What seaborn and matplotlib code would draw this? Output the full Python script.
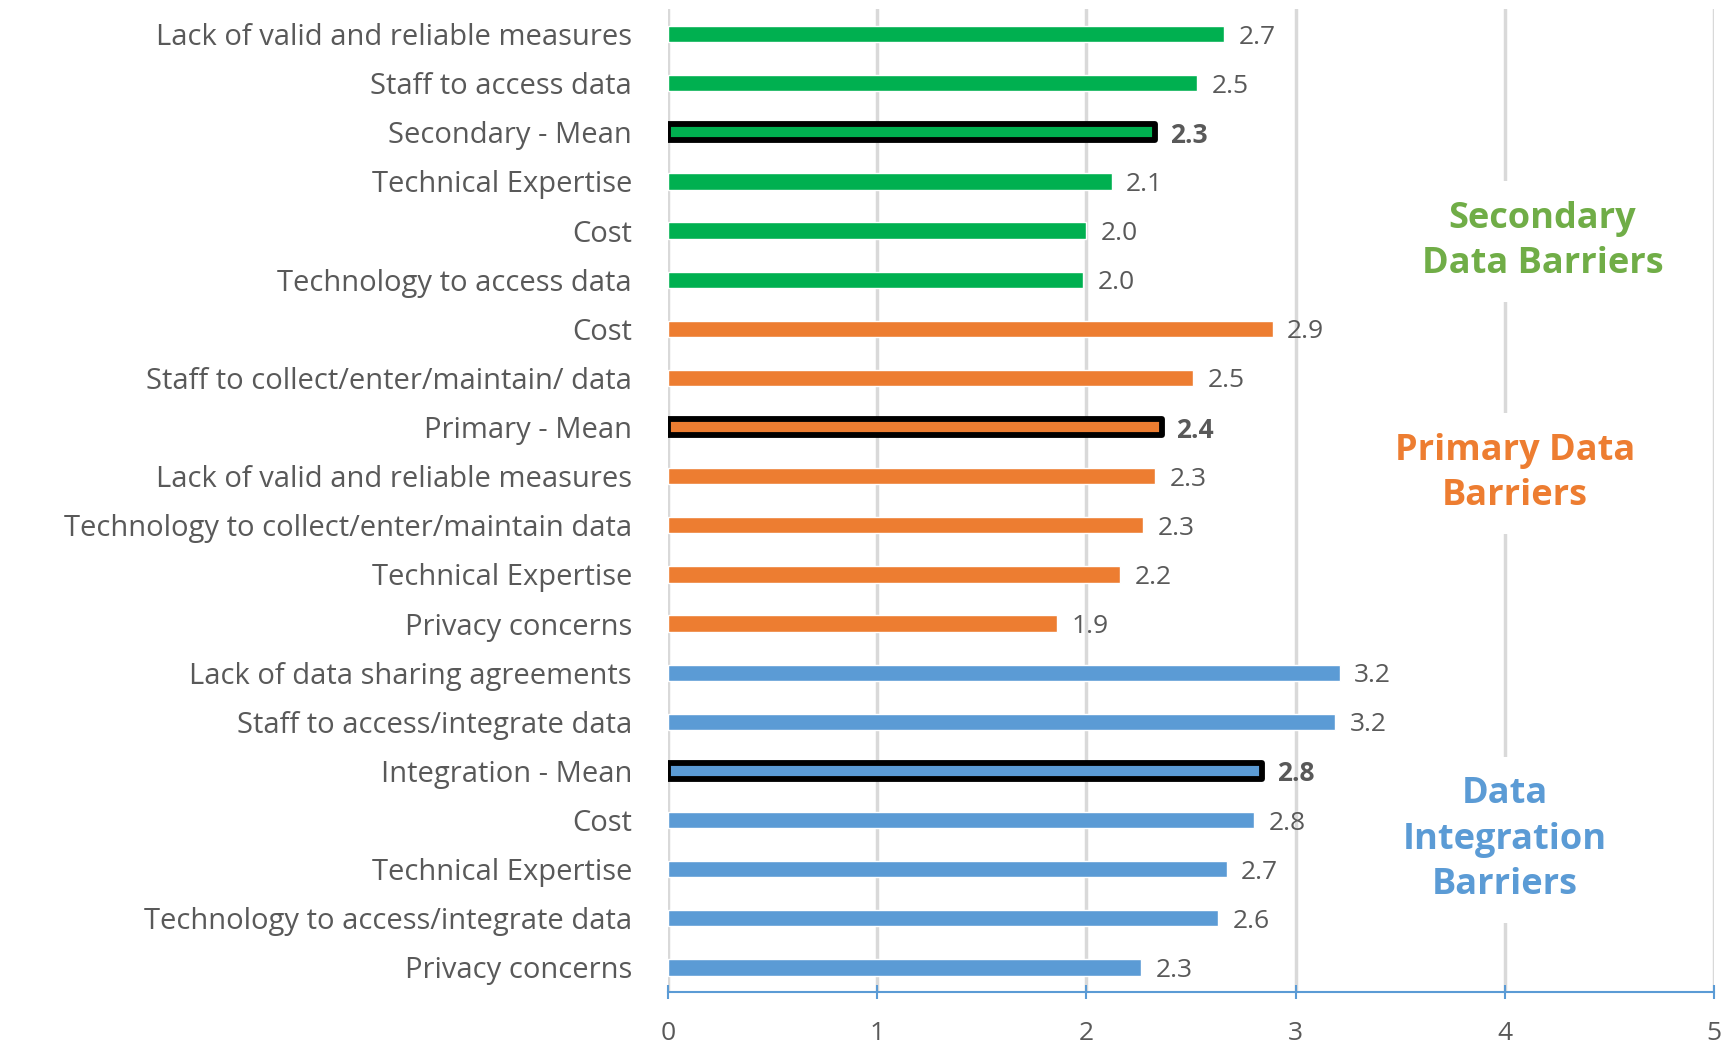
import numpy as np
import pandas as pd
import matplotlib.pyplot as plt
import seaborn as sns

# Data (top row first)
secondary_labels = ["Lack of valid and reliable measures", "Staff to access data",
                    "Secondary - Mean", "Technical Expertise", "Cost",
                    "Technology to access data"]
secondary_values = [2.66, 2.53, 2.33, 2.12, 2.00, 1.985]

primary_labels = ["Cost", "Staff to collect/enter/maintain/ data", "Primary - Mean",
                  "Lack of valid and reliable measures",
                  "Technology to collect/enter/maintain data",
                  "Technical Expertise", "Privacy concerns"]
primary_values = [2.89, 2.51, 2.36, 2.33, 2.27, 2.16, 1.86]

integration_labels = ["Lack of data sharing agreements", "Staff to access/integrate data",
                      "Integration - Mean", "Cost", "Technical Expertise",
                      "Technology to access/integrate data", "Privacy concerns"]
integration_values = [3.21, 3.19, 2.84, 2.80, 2.67, 2.63, 2.26]

group_names = ["Secondary", "Primary", "Integration"]
group_titles = ["Secondary\nData Barriers", "Primary Data\nBarriers",
                "Data\nIntegration\nBarriers"]
x_ticks = [0, 1, 2, 3, 4, 5]

BAR_COLORS = {"Secondary": "#00B050", "Primary": "#ED7D31", "Integration": "#5B9BD5"}
TITLE_COLORS = {"Secondary": "#70AD47", "Primary": "#ED7D31", "Integration": "#5B9BD5"}
TEXT_GRAY = "#595959"


def build_frame():
    rows = []
    for grp, labels, values in [("Secondary", secondary_labels, secondary_values),
                                ("Primary", primary_labels, primary_values),
                                ("Integration", integration_labels, integration_values)]:
        for lab, val in zip(labels, values):
            rows.append({"group": grp, "label": lab, "value": val,
                         "key": f"{grp}|{lab}", "is_mean": lab.endswith("- Mean")})
    return pd.DataFrame(rows)


def main():
    df = build_frame()
    sns.set_style("white")
    plt.rcParams["font.family"] = ["Open Sans", "DejaVu Sans"]

    fig = plt.figure(figsize=(17.33, 10.49), dpi=100)
    ax = fig.add_axes([0.3855, 0.0543, 0.6035, 0.9367])

    sns.barplot(data=df, y="key", x="value", hue="group", order=df["key"].tolist(),
                palette=BAR_COLORS, dodge=False, width=0.33, legend=False,
                saturation=1, ax=ax, zorder=3)

    # Thick black outline on the mean rows
    mean_rows = set(np.where(df["is_mean"])[0])
    for p in ax.patches:
        row = int(round(p.get_y() + p.get_height() / 2))
        if row in mean_rows and p.get_width() > 0:
            p.set_edgecolor("black")
            p.set_linewidth(4.2)
            p.set_joinstyle("round")

    # Value labels
    for i, r in df.iterrows():
        ax.text(r["value"] + 0.07, i, f"{r['value']:.1f}", va="center_baseline",
                ha="left", fontsize=19, color=TEXT_GRAY,
                fontweight="bold" if r["is_mean"] else "normal", zorder=4)

    ax.set_xlim(0, 5)
    ax.set_ylim(len(df) - 0.5, -0.5)
    ax.set_xticks(x_ticks)
    ax.set_xticklabels([str(t) for t in x_ticks])
    ax.set_yticks(range(len(df)))
    ax.set_yticklabels(df["label"].tolist())
    ax.set_xlabel("")
    ax.set_ylabel("")

    ax.grid(axis="x", color="#D9D9D9", linewidth=2.5, zorder=0)
    ax.set_axisbelow(True)
    for side in ["top", "right", "left"]:
        ax.spines[side].set_visible(False)
    ax.spines["bottom"].set_color("#5B9BD5")
    ax.spines["bottom"].set_linewidth(1.5)

    ax.tick_params(axis="x", bottom=True, direction="inout", length=10, width=1.5,
                   color="#5B9BD5", labelcolor=TEXT_GRAY, labelsize=19, pad=16)
    ax.tick_params(axis="y", left=False, length=0, labelcolor=TEXT_GRAY,
                   labelsize=21, pad=26)

    # Group titles on the right, positioned by group rows
    title_pos = {"Secondary": (4.18, 4.22), "Primary": (4.05, 8.95),
                 "Integration": (4.0, 16.4)}
    for grp, title in zip(group_names, group_titles):
        x, y = title_pos[grp]
        ax.text(x, y, title, ha="center", va="center", fontsize=26,
                fontweight="bold", color=TITLE_COLORS[grp], linespacing=1.35,
                bbox=dict(facecolor="white", edgecolor="none", pad=14), zorder=5)

    fig.savefig("out.png", dpi=100)
    plt.close(fig)


if __name__ == "__main__":
    main()
